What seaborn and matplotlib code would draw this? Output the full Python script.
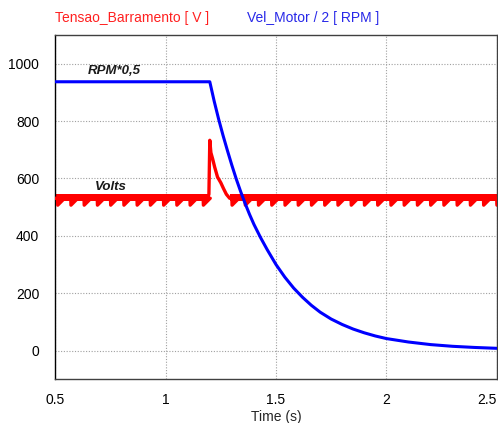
import matplotlib
matplotlib.use("Agg")
import matplotlib.pyplot as plt
import seaborn as sns
import pandas as pd

# ---- data ----
blue_t = [0.50, 1.20, 1.22, 1.24, 1.26, 1.28, 1.30, 1.32, 1.34, 1.36, 1.38, 1.40,
          1.43, 1.46, 1.50, 1.54, 1.58, 1.62, 1.66, 1.70, 1.75, 1.80, 1.85,
          1.90, 1.95, 2.00, 2.10, 2.20, 2.30, 2.40, 2.50]
blue_v = [937, 937, 869, 807, 750, 697, 646, 598, 554, 513, 475, 440,
          394, 352, 300, 256, 218, 186, 158, 134, 110, 91, 75,
          62, 51, 42, 30, 21, 15, 11, 8]

tooth_times = [0.51, 0.57, 0.63, 0.69, 0.75, 0.81, 0.87, 0.93, 0.99, 1.05, 1.11, 1.17,
               1.30, 1.36, 1.42, 1.48, 1.54, 1.60, 1.66, 1.72, 1.78, 1.84, 1.90,
               1.96, 2.02, 2.08, 2.14, 2.20, 2.26, 2.32, 2.38, 2.44, 2.50]
red_high = 531
red_low = 507
spike_t = [1.190, 1.196, 1.200, 1.205, 1.213, 1.222, 1.235, 1.250, 1.262, 1.275, 1.290]
spike_v = [531, 545, 733, 690, 668, 640, 605, 585, 565, 545, 531]
band_lo, band_hi = 520, 546

x_ticks = [0.5, 1, 1.5, 2, 2.5]
x_labels = ["0.5", "1", "1.5", "2", "2.5"]
y_ticks = [0, 200, 400, 600, 800, 1000]

# ---- build red series from the read tooth positions ----
rt, rv = [0.5], [red_high]
spike_done = False
for tt in tooth_times:
    if tt > 1.25 and not spike_done:
        rt += spike_t
        rv += spike_v
        spike_done = True
    rt += [tt, tt + 0.001, tt + 0.032]
    rv += [red_high, red_low, red_high]
rt.append(2.55); rv.append(red_high)
red_df = pd.DataFrame({"t": rt, "v": rv})
blue_df = pd.DataFrame({"t": blue_t, "v": blue_v})

sns.set_style("white")
plt.rcParams["font.family"] = ["Liberation Sans", "DejaVu Sans"]

fig = plt.figure(figsize=(4.98, 4.23), dpi=100)
W, H = 498, 423
ax = fig.add_axes([55.3 / W, (H - 379.3) / H, (496.7 - 55.3) / W, (379.3 - 35) / H])

RED = "#ff0000"
BLUE = "#0000ff"

# noise band of the bus voltage
ax.fill_between([0.5, 1.19], band_lo, band_hi, color=RED, lw=0, zorder=2)
ax.fill_between([1.29, 2.55], band_lo, band_hi, color=RED, lw=0, zorder=2)
sns.lineplot(data=red_df, x="t", y="v", ax=ax, color=RED, lw=2.4, sort=False,
             estimator=None, zorder=3)
sns.lineplot(data=blue_df, x="t", y="v", ax=ax, color=BLUE, lw=2.2, sort=False,
             estimator=None, zorder=4)

ax.set_xlim(0.5, 2.5)
ax.set_ylim(-100, 1100)
ax.set_xticks(x_ticks)
ax.set_xticklabels(x_labels)
ax.set_yticks(y_ticks)
ax.grid(True, color="#a0a0a0", linestyle=(0, (1, 1.5)), linewidth=0.8)
ax.tick_params(axis="both", length=0, labelsize=10, colors="black")
ax.tick_params(axis="y", pad=11.5)
ax.tick_params(axis="x", pad=10)
labs = ax.get_xticklabels()
labs[-1].set_horizontalalignment("right")
for sp in ax.spines.values():
    sp.set_color("#404040")
    sp.set_linewidth(1.0)
ax.spines["left"].set_color("black")

ax.set_xlabel("Time (s)", fontsize=10, labelpad=2)
ax.set_ylabel("")

ax.text(0.648, 973, "RPM*0,5", fontsize=9.5, fontweight="bold", fontstyle="italic",
        va="center", ha="left", color="#1a1a1a")
ax.text(0.680, 570, "Volts", fontsize=9.5, fontweight="bold", fontstyle="italic",
        va="center", ha="left", color="#1a1a1a")

fig.text(55 / W, 1 - 18 / H, "Tensao_Barramento [ V ]", color="#ff2020", fontsize=10,
         ha="left", va="center")
fig.text(247 / W, 1 - 18 / H, "Vel_Motor / 2 [ RPM ]", color="#2828e8", fontsize=10,
         ha="left", va="center")

fig.savefig("out.png", dpi=100)
